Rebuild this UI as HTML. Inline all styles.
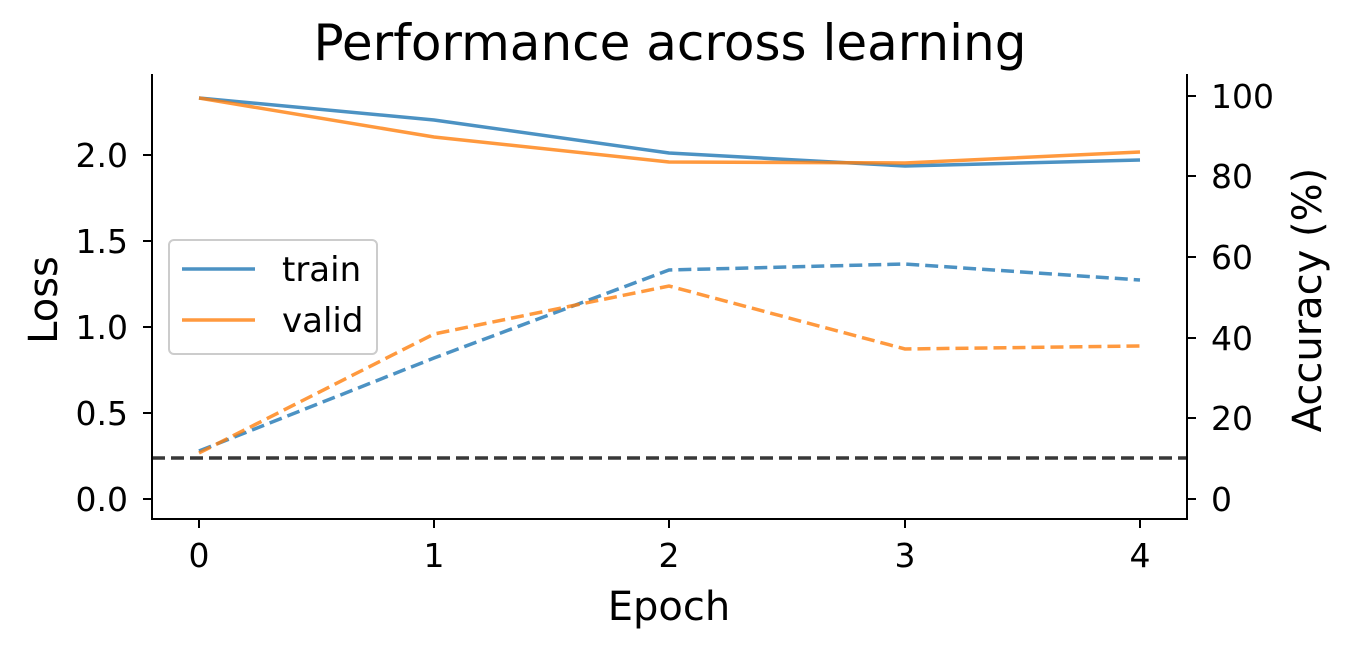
<!DOCTYPE html>
<html><head><meta charset="utf-8"><style>
body{margin:0;background:#fff;}
svg{display:block;font-family:"DejaVu Sans","Liberation Sans",sans-serif;}
</style></head><body>
<svg width="1350" height="650" viewBox="0 0 1350 650" xmlns="http://www.w3.org/2000/svg">
<rect width="1350" height="650" fill="#fff"/>
<text x="670" y="60" font-size="50" text-anchor="middle" fill="#000">Performance across learning</text>
<g fill="none" stroke-width="3.5">
<polyline points="199,98 434,120 669,153 905,166 1140,160" stroke="#1f77b4" stroke-opacity="0.8"/>
<polyline points="199,98 434,137 669,162 905,163 1140,152" stroke="#ff7f0e" stroke-opacity="0.8"/>
<polyline points="199,451 434,358 669,270 905,264 1140,280" stroke="#1f77b4" stroke-opacity="0.8" stroke-dasharray="13,6"/>
<polyline points="199,453 434,334 669,286 905,349 1140,346" stroke="#ff7f0e" stroke-opacity="0.8" stroke-dasharray="13,6"/>
<line x1="152" y1="458" x2="1187" y2="458" stroke="#222" stroke-opacity="0.9" stroke-dasharray="13,6"/>
</g>
<g stroke="#000" stroke-width="2">
<line x1="152" y1="74" x2="152" y2="520"/>
<line x1="1187" y1="74" x2="1187" y2="520"/>
<line x1="151" y1="519" x2="1188" y2="519"/>
<line x1="143" y1="499" x2="152" y2="499"/><line x1="143" y1="413" x2="152" y2="413"/>
<line x1="143" y1="327" x2="152" y2="327"/><line x1="143" y1="241" x2="152" y2="241"/>
<line x1="143" y1="155" x2="152" y2="155"/>
<line x1="1187" y1="499" x2="1196" y2="499"/><line x1="1187" y1="418" x2="1196" y2="418"/>
<line x1="1187" y1="338" x2="1196" y2="338"/><line x1="1187" y1="257" x2="1196" y2="257"/>
<line x1="1187" y1="176" x2="1196" y2="176"/><line x1="1187" y1="96" x2="1196" y2="96"/>
<line x1="199" y1="519" x2="199" y2="528"/><line x1="434" y1="519" x2="434" y2="528"/>
<line x1="669" y1="519" x2="669" y2="528"/><line x1="905" y1="519" x2="905" y2="528"/>
<line x1="1140" y1="519" x2="1140" y2="528"/>
</g>
<g font-size="33" fill="#000">
<g text-anchor="end">
<text x="128" y="511">0.0</text><text x="128" y="425">0.5</text><text x="128" y="339">1.0</text>
<text x="128" y="253">1.5</text><text x="128" y="167">2.0</text>
</g>
<g text-anchor="start">
<text x="1211" y="511">0</text><text x="1211" y="430">20</text><text x="1211" y="350">40</text>
<text x="1211" y="269">60</text><text x="1211" y="188">80</text><text x="1211" y="108">100</text>
</g>
<g text-anchor="middle">
<text x="199" y="567">0</text><text x="434" y="567">1</text><text x="669" y="567">2</text>
<text x="905" y="567">3</text><text x="1140" y="567">4</text>
</g>
</g>
<text x="669" y="620" font-size="40" text-anchor="middle">Epoch</text>
<text transform="translate(57,300) rotate(-90)" font-size="40" text-anchor="middle">Loss</text>
<text transform="translate(1321,300) rotate(-90)" font-size="40" text-anchor="middle">Accuracy (%)</text>
<rect x="169" y="240" width="208" height="114" rx="5" fill="#fff" fill-opacity="0.8" stroke="#ccc" stroke-width="2"/>
<line x1="182" y1="269" x2="255" y2="269" stroke="#1f77b4" stroke-opacity="0.8" stroke-width="3.5"/>
<line x1="182" y1="320" x2="255" y2="320" stroke="#ff7f0e" stroke-opacity="0.8" stroke-width="3.5"/>
<text x="282" y="281" font-size="34">train</text>
<text x="282" y="332" font-size="34">valid</text>
</svg>
</body></html>
